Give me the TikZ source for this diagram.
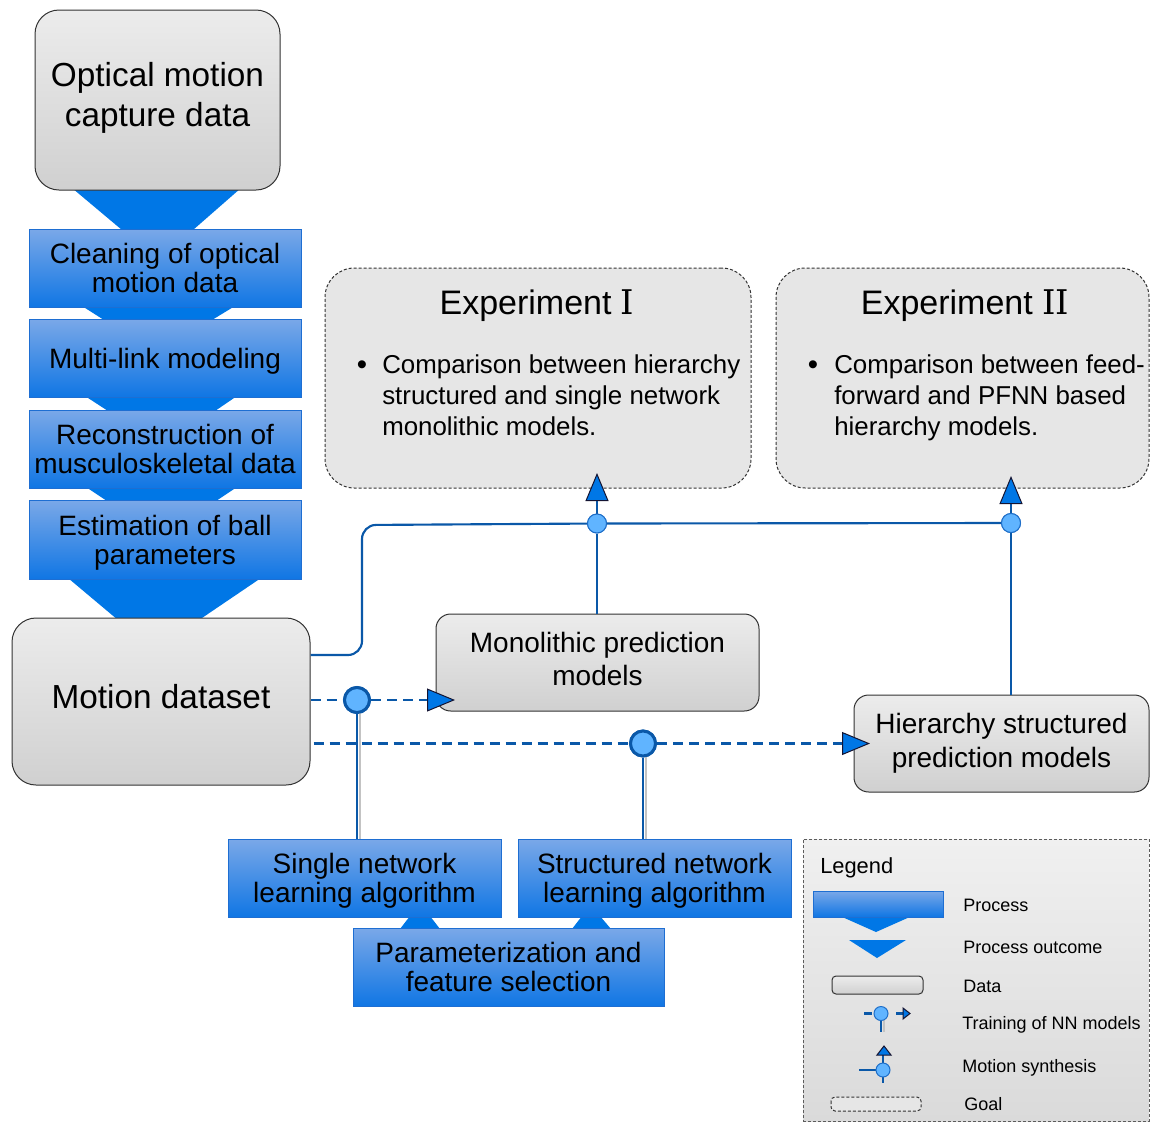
\documentclass[tikz,border=0pt]{standalone}
\usepackage{fontspec}
\setmainfont{Liberation Sans}
\newfontfamily\numfont{DejaVu Serif}
\usetikzlibrary{calc,arrows.meta}
\definecolor{procT}{RGB}{122,168,232}
\definecolor{procB}{RGB}{16,118,228}
\definecolor{procE}{RGB}{30,110,210}
\definecolor{outc}{RGB}{0,119,230}
\definecolor{dataT}{RGB}{236,236,236}
\definecolor{dataB}{RGB}{208,208,208}
\definecolor{dataE}{RGB}{51,51,51}
\definecolor{dline}{RGB}{10,88,168}
\definecolor{cfill}{RGB}{96,180,255}
\definecolor{cedge}{RGB}{30,110,200}
\definecolor{expfill}{RGB}{230,230,230}
\definecolor{legT}{RGB}{240,240,240}
\definecolor{legB}{RGB}{218,218,218}
\definecolor{shad}{RGB}{195,195,195}
\definecolor{tipc}{RGB}{20,20,50}
\begin{document}
\begin{tikzpicture}[x=0.75pt,y=-0.75pt,
  datab/.style={draw=dataE, line width=0.75pt, rounded corners=18pt, top color=dataT, bottom color=dataB, align=center, inner sep=0pt},
  procbox/.style={draw=procE, line width=0.75pt, top color=procT, bottom color=procB, align=center, inner sep=0pt, minimum width=204pt, minimum height=58.5pt, font=\fontsize{21pt}{21.75pt}\selectfont},
  proctext/.style={align=center, inner sep=0pt, font=\fontsize{21pt}{21.75pt}\selectfont},
  bigtext/.style={align=center, inner sep=0pt, font=\fontsize{25pt}{30pt}\selectfont},
  outcome/.style={fill=outc},
  goalbox/.style={draw=dataE, line width=0.75pt, dash pattern=on 2.25pt off 1.5pt, fill=expfill, rounded corners=22pt, inner sep=0pt},
  synth/.style={draw=dline, line width=1.6pt},
  train/.style={draw=dline, line width=1.9pt, dash pattern=on 7.5pt off 4.5pt},
  shadowl/.style={draw=shad, line width=1.5pt},
  bigdot/.style={circle, draw=dline, line width=2.25pt, fill=cfill, minimum size=18.75pt, inner sep=0pt},
  smalldot/.style={circle, draw=cedge, line width=0.75pt, fill=cfill, minimum size=14.25pt, inner sep=0pt},
  tiptri/.style={fill=outc, draw=tipc, line width=0.75pt},
  bigtip/.style={-{Triangle[width=17.25pt,length=21pt,line width=0.75pt,color=tipc,fill=outc]}},
  legtext/.style={anchor=west, inner sep=0pt, font=\fontsize{13.5pt}{16pt}\selectfont},
  bodytext/.style={anchor=north west, inner sep=0pt, align=left, font=\fontsize{19.4pt}{23.25pt}\selectfont},
  titletext/.style={inner sep=0pt, font=\fontsize{25.5pt}{30pt}\selectfont},
  bullet/.style={inner sep=0pt, font=\fontsize{22pt}{23.25pt}\selectfont}
]
\useasboundingbox (0,0) rectangle (1150,1122);

% process outcome trapezoids
\fill[outcome] (72,188) -- (241,188) -- (193,230) -- (122,230) -- cycle;
\fill[outcome] (82,306) -- (235,306) -- (212,320) -- (104,320) -- cycle;
\fill[outcome] (85,396) -- (237,396) -- (215,411) -- (108,411) -- cycle;
\fill[outcome] (86,487) -- (237,487) -- (216,501) -- (107,501) -- cycle;
\fill[outcome] (68,578) -- (261,578) -- (199,620) -- (118,620) -- cycle;
\fill[outcome] (400,929) -- (440,929) -- (430,916) -- (410,916) -- cycle;
\fill[outcome] (572,929) -- (611,929) -- (600,916) -- (582,916) -- cycle;

% goals
\node[goalbox, minimum width=319.5pt, minimum height=165pt] (exp1) at (538,378) {};
\node[goalbox, minimum width=279.75pt, minimum height=165pt] (exp2) at (962.5,378) {};
\node[titletext] (exp1t) at (537,306) {Experiment {\numfont I}};
\node[titletext] (exp2t) at (965,306) {Experiment {\numfont II}};
\node[bullet] (b1) at (362,368) {•};
\node[bodytext] (exp1b) at (382,354) {Comparison between hierarchy\\structured and single network\\monolithic models.};
\node[bullet] (b2) at (813,368) {•};
\node[bodytext] (exp2b) at (834,354) {Comparison between feed-\\forward and PFNN based\\hierarchy models.};

% data
\node[datab, minimum width=183.75pt, minimum height=135pt] (opt) at (157.5,100) {};
\node[bigtext] (optt) at (157.5,98) {Optical motion\\capture data};
\node[datab, minimum width=223.5pt, minimum height=125.25pt] (motion) at (161,701.5) {};
\node[bigtext] (motiont) at (161,696.5) {Motion dataset};
\node[datab, rounded corners=11pt, minimum width=242.25pt, minimum height=72.75pt] (mono) at (597.5,662.5) {};
\node[align=center, inner sep=0pt, font=\fontsize{21pt}{24.75pt}\selectfont] (monot) at (597.5,658.5) {Monolithic prediction\\models};
\node[datab, rounded corners=11pt, minimum width=221.25pt, minimum height=72.75pt, font=\fontsize{21pt}{25.5pt}\selectfont] (hier) at (1001.5,743.5) {Hierarchy structured\\prediction models};

% processes
\node[procbox] (clean) at (165,268) {Cleaning of optical\\motion data};
\node[procbox] (multi) at (165,358) {};
\node[proctext] (multit) at (165,361) {Multi-link modeling};
\node[procbox] (recon) at (165,449) {Reconstruction of\\musculoskeletal data};
\node[procbox, minimum height=59.25pt] (estim) at (165,539.5) {};
\node[proctext] (estimt) at (165,543) {Estimation of ball\\parameters};
\node[procbox, minimum width=204.75pt] (single) at (364.5,878) {};
\node[proctext] (singlet) at (364.5,881) {Single network\\learning algorithm};
\node[procbox, minimum width=204.75pt] (struct) at (654.5,878) {};
\node[proctext] (structt) at (654.5,881) {Structured network\\learning algorithm};
\node[procbox, minimum width=233.25pt] (param) at (508.5,967) {Parameterization and\\feature selection};

% junction nodes
\node[smalldot] (c1) at (597,523.5) {};
\node[smalldot] (c2) at (1011,523) {};
\node[bigdot] (d1) at (357,700) {};
\node[bigdot] (d2) at (643,743.5) {};
\coordinate (t1) at (597,473);
\coordinate (t2) at (1011,476);
\coordinate (m1) at (455,700);
\coordinate (h1) at (870,743.5);
\coordinate (k1) at (362,655);
\coordinate (k2) at (362,525);

% motion synthesis connectors
\draw[synth, rounded corners=10.5pt] ([yshift=34.9pt]motion.east) -- (k1) -- (k2) -- (c1);
\draw[synth] (c1) -- (c2);
\draw[synth] (mono.north -| c1) -- (c1);
\draw[synth, bigtip] (c1) -- (t1);
\draw[synth] (hier.north -| c2) -- (c2);
\draw[synth, bigtip] (c2) -- (t2);

% training connectors
\draw[shadowl] ($(d1)+(3,0)$) -- ($(d1 |- single.north)+(3,0)$);
\draw[synth] (d1) -- (d1 |- single.north);
\draw[shadowl] ($(d2)+(3,0)$) -- ($(d2 |- struct.north)+(3,0)$);
\draw[synth] (d2) -- (d2 |- struct.north);
\draw[train] (motion.east |- d1) -- (d1);
\draw[train, bigtip] (d1) -- (m1);
\draw[train] ([xshift=2.25pt]motion.east |- d2) -- (d2);
\draw[train, bigtip] (d2) -- (h1);

% redraw dots on top
\node[smalldot] at (c1) {};
\node[smalldot] at (c2) {};
\node[bigdot] at (d1) {};
\node[bigdot] at (d2) {};

% legend
\node[draw=dataE!80, line width=0.75pt, dash pattern=on 2.25pt off 1.5pt, top color=legT, bottom color=legB, minimum width=259.5pt, minimum height=211.5pt, inner sep=0pt] (leg) at (976,980) {};
\node[anchor=west, inner sep=0pt, font=\fontsize{16.4pt}{19pt}\selectfont] (legt) at (820,868) {Legend};
\fill[outcome] (840,916) -- (912,916) -- (876,932) -- cycle;
\draw[draw=procE, line width=0.75pt, top color=procT, bottom color=procB] (813,891) rectangle (943,917);
\fill[outcome] (849,940) -- (906,940) -- (877,958) -- cycle;
\draw[draw=dataE, line width=0.75pt, rounded corners=3pt, top color=dataT, bottom color=dataB] (832,976) rectangle (923,994);
% training icon
\draw[dline, line width=1.9pt] (864,1013.5) -- (872,1013.5);
\draw[shad, line width=1.5pt] (883.5,1020) -- (883.5,1032);
\draw[dline, line width=1.5pt] (881,1020) -- (881,1032);
\node[smalldot, minimum size=10.5pt] (li1) at (881,1013.5) {};
\draw[dline, line width=1.9pt] (896,1013.5) -- (903,1013.5);
\filldraw[tiptri] (903,1008) -- (910,1013.5) -- (903,1019) -- cycle;
% motion synthesis icon
\draw[dline, line width=1.2pt] (883,1055) -- (883,1083);
\draw[dline, line width=1.2pt] (859,1070) -- (877,1070);
\filldraw[tiptri] (877,1055) -- (884,1046) -- (891,1055) -- cycle;
\node[smalldot, minimum size=10.5pt] (li2) at (883,1070) {};
% goal icon
\draw[draw=dataE, line width=0.75pt, dash pattern=on 2.25pt off 1.5pt, fill=expfill, rounded corners=3pt] (831,1097) rectangle (921,1111);
\node[legtext] (l1) at (963,905) {Process};
\node[legtext] (l2) at (963,947) {Process outcome};
\node[legtext] (l3) at (963,986) {Data};
\node[legtext] (l4) at (962,1025) {Training of NN models};
\node[legtext] (l5) at (962,1068) {Motion synthesis};
\node[legtext] (l6) at (964,1104) {Goal};
\end{tikzpicture}
\end{document}
